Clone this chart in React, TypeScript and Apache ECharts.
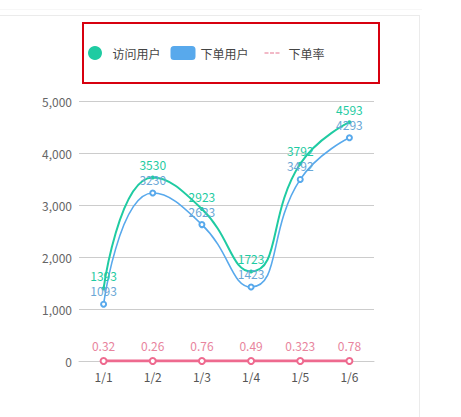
import { useEffect, useRef } from "react";
import * as echarts from "echarts";

const days = ["1/1", "1/2", "1/3", "1/4", "1/5", "1/6"];
const visitors = [1393, 3530, 2923, 1723, 3792, 4593];
const buyers = [1093, 3230, 2623, 1423, 3492, 4293];
const orderRate = [0.32, 0.26, 0.76, 0.49, 0.323, 0.78];

const GREEN = "#1fcba2";
const BLUE = "#58a9ec";
const PINK = "#ee6a8f";

const FONT = '"Noto Sans CJK SC", "Noto Sans", sans-serif';

// three short dashes, padded to the 25x14 legend box
const dashIcon =
  "path://M0,0M25,14M6,6.3h4v1.4h-4zM11.5,6.3h4v1.4h-4zM17,6.3h4v1.4h-4z";

const App = () => {
  const chartRef = useRef<HTMLDivElement | null>(null);

  useEffect(() => {
    if (!chartRef.current) return;
    const chart = echarts.init(chartRef.current, undefined, { renderer: "svg" });

    chart.setOption({
      animation: false,
      textStyle: { fontFamily: FONT },
      graphic: [
        {
          type: "rect",
          shape: { x: 83, y: 23, width: 296, height: 60 },
          style: { fill: "none", stroke: "#d7000f", lineWidth: 2 },
          silent: true,
        },
      ],
      legend: {
        left: 88,
        top: 46,
        padding: 0,
        itemGap: 10,
        itemWidth: 25,
        itemHeight: 14,
        textStyle: { color: "#444", fontSize: 12, fontFamily: FONT },
        data: [
          { name: "访问用户", icon: "circle" },
          { name: "下单用户", icon: "roundRect" },
          { name: "下单率", icon: dashIcon, itemStyle: { color: "#eea3b5" } },
        ],
      },
      grid: { left: 79, top: 101, width: 295, height: 260, containLabel: false },
      xAxis: {
        type: "category",
        data: days,
        axisLine: { lineStyle: { color: "#ccc" } },
        axisTick: { show: false },
        axisLabel: { color: "#555", fontSize: 12, margin: 9 },
      },
      yAxis: {
        type: "value",
        min: 0,
        max: 5000,
        interval: 1000,
        axisLine: { show: false },
        axisTick: { show: false },
        axisLabel: { color: "#666", fontSize: 12, margin: 7 },
        splitLine: { lineStyle: { color: "#ccc" } },
      },
      series: [
        {
          name: "访问用户",
          type: "line",
          smooth: true,
          data: visitors,
          symbol: "circle",
          symbolSize: 4,
          itemStyle: { color: GREEN },
          lineStyle: { width: 2, color: GREEN },
          label: { show: true, position: "top", distance: 5, color: GREEN, fontSize: 12 },
        },
        {
          name: "下单用户",
          type: "line",
          smooth: true,
          data: buyers,
          symbol: "emptyCircle",
          symbolSize: 5,
          itemStyle: { color: BLUE, borderWidth: 1 },
          lineStyle: { width: 1.6, color: BLUE },
          label: { show: true, position: "top", distance: 4, color: "#6aa7d6", fontSize: 12 },
        },
        {
          name: "下单率",
          type: "line",
          data: orderRate,
          symbol: "emptyCircle",
          symbolSize: 6,
          itemStyle: { color: PINK, borderWidth: 1 },
          lineStyle: { width: 3, color: PINK },
          label: { show: true, position: "top", distance: 5, color: "#e8849d", fontSize: 12 },
        },
      ],
    });

    return () => {
      chart.dispose();
    };
  }, []);

  return (
    <div
      style={{
        position: "fixed",
        left: 0,
        top: 0,
        width: 461,
        height: 417,
        background: "#fff",
        overflow: "hidden",
      }}
    >
      <div
        style={{
          position: "absolute",
          left: -1,
          top: 9,
          width: 423,
          height: 0,
          borderTop: "1px solid #f7f7f7",
        }}
      />
      <div
        style={{
          position: "absolute",
          left: -1,
          top: 15,
          width: 419,
          height: 420,
          border: "1px solid #ebebeb",
        }}
      />
      <div
        ref={chartRef}
        style={{ position: "absolute", left: 0, top: 0, width: 461, height: 417 }}
      />
    </div>
  );
};

export default App;
